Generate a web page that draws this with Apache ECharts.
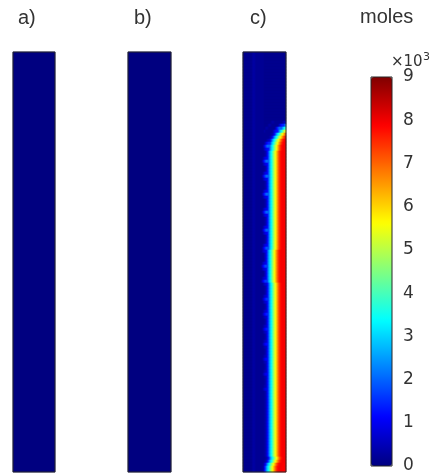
<!DOCTYPE html>
<html><head><meta charset="utf-8">
<script src="https://cdn.jsdelivr.net/npm/echarts@6/dist/echarts.min.js"></script>
<style>html,body{margin:0;padding:0;background:#fff}#c{width:435px;height:476px}</style>
</head><body><div id="c"></div>
<script>
// Panel labels and colour-bar ticks
const panelLabels = ['a)', 'b)', 'c)'];
const unitLabel = 'moles';
const scaleMain = '×10';
const scaleExp = '3';
const barTicks = [0, 1, 2, 3, 4, 5, 6, 7, 8, 9]; // ×10^3 moles

// Panels a) and b): uniform concentration (×10^3 moles)
const panelAValue = 0;
const panelBValue = 0;

// Panel c): concentration across the width (×10^3 moles), 43 columns left→right, mid-height
const cProfile = [0.12,0.12,0.12,0.12,0.12,0.12,0.12,0.12,0.12,
  0.22,0.3,0.3,0.22,
  0.18,0.18,0.18,0.18,0.18,0.18,0.18,0.18,
  0.25,0.35,0.6,
  1.0,1.6,2.3,2.9,3.3,3.9,4.5,5.0,5.5,6.0,6.5,7.0,7.4,7.7,7.85,7.95,7.95,7.95,7.9];
// light-blue bumps just ahead of the front (×10^3 moles)
const cHalo = [0,0,0,0,0,0,0,0,0,0,0,0,0,0,0,0,0,0,0,
  0.4,0.8,1.3,1.7,2.0,2.0,1.9,
  0,0,0,0,0,0,0,0,0,0,0,0,0,0,0,0,0];
// per row (140 rows of equal height, top→bottom): shift of the front in columns (99 = front not reached)
const cRowShift = [99,99,99,99,99,99,99,99,99,99,99,99,99,99,99,99,99,99,99,99,99,99,99,
  19,16,13,10,7,5,3,2,1,1,
  0,0,0,0,0,0,0,0,0,0,0,0,0,0,0,0,0,0,0,0,0,0,0,0,0,0,0,0,0,0,0,0,0,
  -1,-1,-1,-1,-1,-1,-1,-1,-1,-1,-1,
  0,0,0,0,0,0,0,0,0,0,0,0,0,0,0,0,0,0,0,0,0,0,0,0,0,0,0,0,0,0,0,0,0,0,0,0,0,0,0,0,0,0,0,0,0,0,0,0,0,0,0,0,0,0,0,0,0,
  0,1,0,-2,-3,-3];
// per row strength of the bumps
const cRowHalo = [0,0,0,0,0,0,0,0,0,0,0,0,0,0,0,0,0,0,0,0,0,0,0,
  0.3,0.7,1.0,0.6,0.2,0.1,0.3,0.7,1.0,0.6,0.2,0.1,0.5,1.0,0.5,0.1,0.1,0.5,1.0,0.5,0.1,0.1,0.1,
  0.5,1.0,0.5,0.1,0.1,0.1,0.5,1.0,0.5,0.1,0.1,0.1,0.5,0.95,0.5,0.1,0.1,0.1,0.5,0.9,0.45,0.1,0.1,0.1,
  0.45,0.85,0.45,0.1,0.1,0.4,0.8,0.4,0.1,0.1,0.1,0.4,0.75,0.4,0.1,0.1,0.4,0.7,0.35,0.1,0.1,0.35,0.65,0.35,
  0.1,0.1,0.35,0.6,0.3,0.1,0.1,0.3,0.55,0.3,0.1,0.1,0.3,0.5,0.25,0.1,0.1,0.25,0.45,0.2,
  0.15,0.15,0.15,0.15,0.15,0.15,0.15,0.15,0.15,0.15,0.15,0.15,0.15,0.15,0.15,0.15,0.15,0.15,0.15,0.15,0.15,0.15,0.15,0.15,0.15,0.15];

const jet = ['#000080','#0000ff','#0080ff','#00ffff','#80ff80','#ffff00','#ff8000','#ff0000','#800000'];

const nCols = cProfile.length, nRows = cRowShift.length;
const colCats = cProfile.map((_, i) => 'x' + i);
const rowCats = cRowShift.map((_, i) => 'y' + i);
const cData = [];
for (let r = 0; r < nRows; r++) {
  const s = cRowShift[r];
  for (let c = 0; c < nCols; c++) {
    let v;
    if (c < 21) v = cProfile[c];
    else {
      const k = Math.min(nCols - 1, c - s);
      v = k < 0 ? cProfile[0] : cProfile[k];
    }
    const h = c - s;
    if (h >= 0 && h < nCols) v = Math.max(v, cHalo[h] * (cRowHalo[r] || 0));
    cData.push([c, r, v]);
  }
}

const font = 'Liberation Sans, Arial, sans-serif';
const barFont = 'DejaVu Sans, sans-serif';
const border = {show: true, borderColor: '#262626', borderWidth: 1, backgroundColor: 'transparent', z: 10};
const tStyle = {fontSize: 20, fontWeight: 'normal', color: '#333', fontFamily: font};
const chart = echarts.init(document.getElementById('c'), null, {renderer: 'canvas'});
chart.setOption({
  animation: false,
  backgroundColor: '#ffffff',
  title: [
    {text: panelLabels[0], left: 18, top: 8, padding: 0, textStyle: tStyle},
    {text: panelLabels[1], left: 134, top: 8, padding: 0, textStyle: tStyle},
    {text: panelLabels[2], left: 250, top: 8, padding: 0, textStyle: tStyle},
    {text: unitLabel, left: 360, top: 7, padding: 0, textStyle: tStyle}
  ],
  graphic: [
    {type: 'text', left: 391, top: 55, z: 20, style: {text: scaleMain, fontSize: 15, fill: '#333', fontFamily: barFont}},
    {type: 'text', left: 423, top: 52, z: 20, style: {text: scaleExp, fontSize: 11, fill: '#333', fontFamily: barFont}}
  ],
  grid: [
    Object.assign({left: 13, top: 52, width: 42, height: 420}, border),
    Object.assign({left: 128, top: 52, width: 43, height: 420}, border),
    Object.assign({left: 243, top: 52, width: 43, height: 420}, border),
    Object.assign({left: 371, top: 77, width: 21, height: 389}, border)
  ],
  xAxis: [
    {gridIndex: 0, type: 'category', data: ['a'], show: false},
    {gridIndex: 1, type: 'category', data: ['b'], show: false},
    {gridIndex: 2, type: 'category', data: colCats, show: false},
    {gridIndex: 3, type: 'category', data: ['bar'], show: false}
  ],
  yAxis: [
    {gridIndex: 0, type: 'category', data: ['a'], show: false},
    {gridIndex: 1, type: 'category', data: ['b'], show: false},
    {gridIndex: 2, type: 'category', data: rowCats, inverse: true, show: false},
    {gridIndex: 3, type: 'value', min: barTicks[0], max: barTicks[barTicks.length - 1], interval: 1, position: 'left', z: 12,
      axisLine: {show: false}, axisTick: {inside: true, length: 3, lineStyle: {color: '#222'}},
      axisLabel: {show: false}, splitLine: {show: false}},
    {gridIndex: 3, type: 'value', min: barTicks[0], max: barTicks[barTicks.length - 1], interval: 1, position: 'right', z: 12,
      axisLine: {show: false}, axisTick: {inside: true, length: 3, lineStyle: {color: '#222'}},
      axisLabel: {margin: 11, fontSize: 17, color: '#333', fontFamily: barFont}, splitLine: {show: false}}
  ],
  visualMap: {
    type: 'continuous', min: 0, max: 9, seriesIndex: [0, 1, 2], left: 371, top: 77,
    itemWidth: 21, itemHeight: 389, padding: 0, calculable: false, hoverLink: false,
    inRange: {color: jet}, textStyle: {color: 'transparent'}, text: null
  },
  series: [
    {type: 'heatmap', xAxisIndex: 0, yAxisIndex: 0, data: [[0, 0, panelAValue]]},
    {type: 'heatmap', xAxisIndex: 1, yAxisIndex: 1, data: [[0, 0, panelBValue]]},
    {type: 'heatmap', xAxisIndex: 2, yAxisIndex: 2, data: cData},
    {type: 'line', xAxisIndex: 3, yAxisIndex: 4, data: [], silent: true}
  ]
});
</script></body></html>
